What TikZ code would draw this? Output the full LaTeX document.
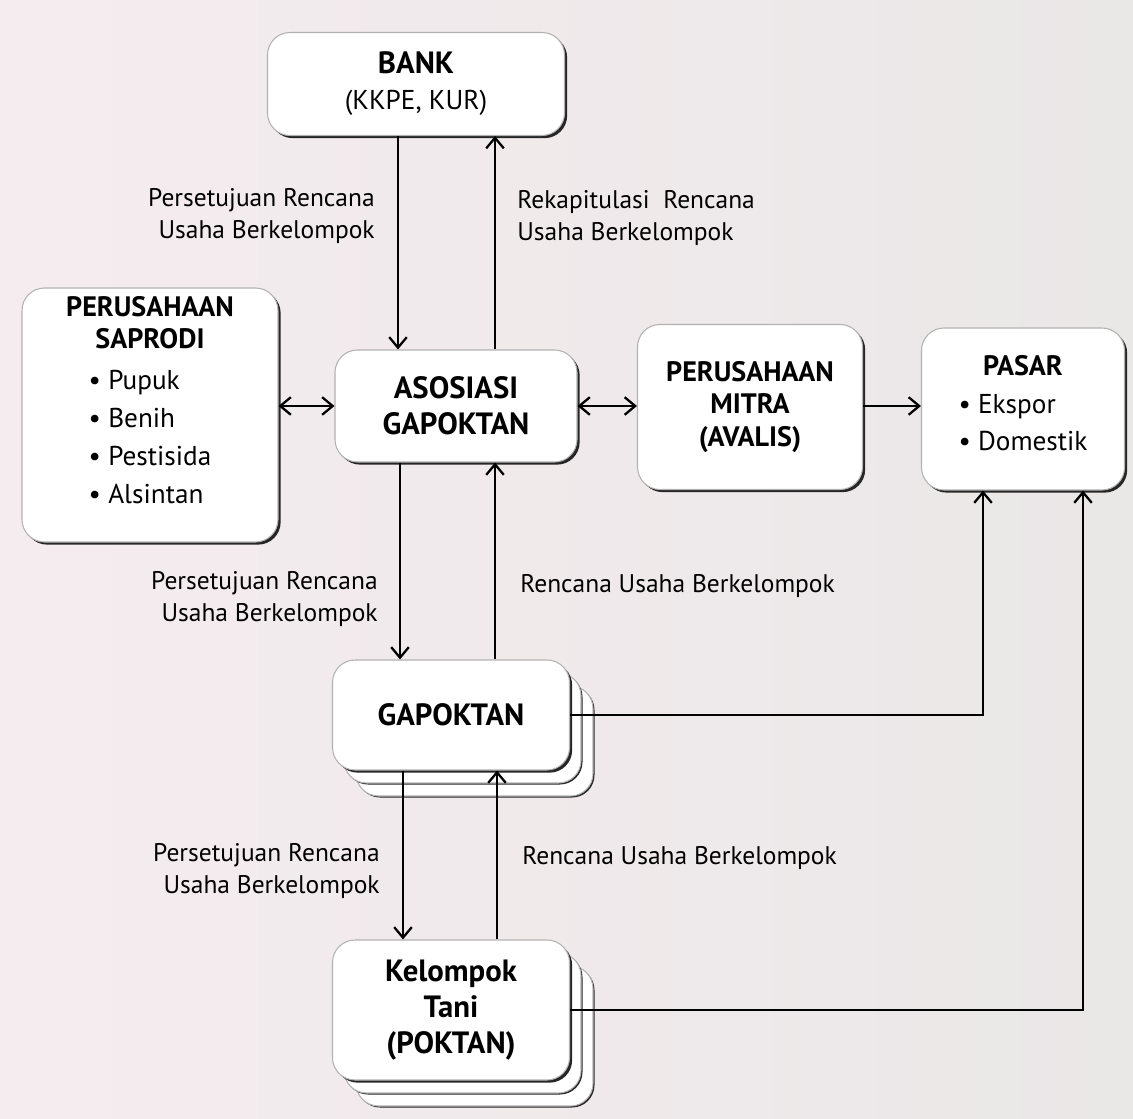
\documentclass[tikz,border=0pt]{standalone}
\usepackage{fontspec}
\setmainfont{PT Sans}
\usetikzlibrary{arrows.meta}
\usetikzlibrary{shadows}
\definecolor{bgleft}{RGB}{245,236,239}
\definecolor{bgright}{RGB}{234,231,231}
\newcommand{\itemfont}{\mdseries\fontsize{15.5}{21.5}\selectfont}
\newcommand{\headfont}{\bfseries\fontsize{16}{18.5}\selectfont}
\tikzset{
  boxshade/.style={general shadow={shadow xshift=1.5pt, shadow yshift=-1.5pt, fill=black!85}},
  boxbase/.style={draw=black!30, line width=0.6pt, fill=white, rounded corners=0.45cm, align=center,
    font=\bfseries\fontsize{17.5}{20.5}\selectfont},
  box/.style={boxbase, boxshade},
  stackbox/.style={boxbase,
    general shadow={shadow xshift=0.5cm, shadow yshift=-0.55cm, fill=black!85},
    general shadow={shadow xshift=0.47cm, shadow yshift=-0.52cm, fill=white, draw=black!30},
    general shadow={shadow xshift=0.26cm, shadow yshift=-0.29cm, fill=black!85},
    general shadow={shadow xshift=0.23cm, shadow yshift=-0.26cm, fill=white, draw=black!30},
    boxshade},
  lbl/.style={font=\fontsize{14.5}{18}\selectfont, inner sep=0pt},
  arr/.style={line width=1.3pt, -{Straight Barb[length=6pt,width=10pt]}},
  darr/.style={line width=1.3pt, {Straight Barb[length=6pt,width=10pt]}-{Straight Barb[length=6pt,width=10pt]}}
}
\begin{document}
\begin{tikzpicture}

\shade[left color=bgleft, right color=bgright] (0,0) rectangle (22.66,-22.38);
\useasboundingbox (0,0) rectangle (22.66,-22.38);

\node[box, minimum width=5.94cm, minimum height=2.06cm] (bank) at (8.32,-1.68)
  {BANK\\{\itemfont (KKPE, KUR)}};
\node[box, font=\headfont, minimum width=5.12cm, minimum height=5.08cm] (saprodi) at (3.0,-8.3)
  {PERUSAHAAN\\SAPRODI\\[7pt]{\itemfont\begin{tabular}{@{}l@{}}\textbullet\ Pupuk\\ \textbullet\ Benih\\ \textbullet\ Pestisida\\ \textbullet\ Alsintan\\[11pt]\end{tabular}}};
\node[box, minimum width=4.84cm, minimum height=2.24cm] (asosiasi) at (9.12,-8.12)
  {ASOSIASI\\GAPOKTAN};
\node[box, font=\headfont, minimum width=4.5cm, minimum height=3.3cm] (mitra) at (15.0,-8.14)
  {PERUSAHAAN\\MITRA\\(AVALIS)};
\node[box, font=\headfont, minimum width=4.06cm, minimum height=3.24cm] (pasar) at (20.46,-8.18)
  {PASAR\\[5pt]{\itemfont\begin{tabular}{@{}l@{}}\textbullet\ Ekspor\\ \textbullet\ Domestik\end{tabular}}};
\node[stackbox, minimum width=4.74cm, minimum height=2.2cm] (gapoktan) at (9.02,-14.3)
  {GAPOKTAN};
\node[stackbox, minimum width=4.74cm, minimum height=2.8cm] (poktan) at (9.02,-20.2)
  {Kelompok\\Tani\\(POKTAN)};

\draw[arr] (7.96,0 |- bank.south) -- (7.96,0 |- asosiasi.north);
\draw[arr] (9.9,0 |- asosiasi.north) -- (9.9,0 |- bank.south);
\draw[arr] (8.0,0 |- asosiasi.south) -- (8.0,0 |- gapoktan.north);
\draw[arr] (9.9,0 |- gapoktan.north) -- (9.9,0 |- asosiasi.south);
\draw[arr] (8.06,0 |- gapoktan.south) -- (8.06,0 |- poktan.north);
\draw[arr] (9.94,0 |- poktan.north) -- (9.94,0 |- gapoktan.south);

\draw[darr] (saprodi.east |- asosiasi.west) -- (asosiasi.west);
\draw[darr] (asosiasi.east) -- (mitra.west |- asosiasi.east);
\draw[arr] (mitra.east |- asosiasi.east) -- (pasar.west |- asosiasi.east);

\draw[arr] (gapoktan.east) -| ([xshift=-0.8cm]pasar.south);
\draw[arr] (poktan.east) -| ([xshift=1.2cm]pasar.south);

\node[lbl, anchor=east, align=right] (l1) at (7.5,-4.32) {Persetujuan Rencana\\Usaha Berkelompok};
\node[lbl, anchor=west, align=left] (l2) at (10.34,-4.36) {Rekapitulasi\ \ Rencana\\Usaha Berkelompok};
\node[lbl, anchor=east, align=right] (l3) at (7.56,-11.98) {Persetujuan Rencana\\Usaha Berkelompok};
\node[lbl, anchor=west] (l4) at (10.4,-11.72) {Rencana Usaha Berkelompok};
\node[lbl, anchor=east, align=right] (l5) at (7.6,-17.42) {Persetujuan Rencana\\Usaha Berkelompok};
\node[lbl, anchor=west] (l6) at (10.44,-17.16) {Rencana Usaha Berkelompok};

\end{tikzpicture}
\end{document}
